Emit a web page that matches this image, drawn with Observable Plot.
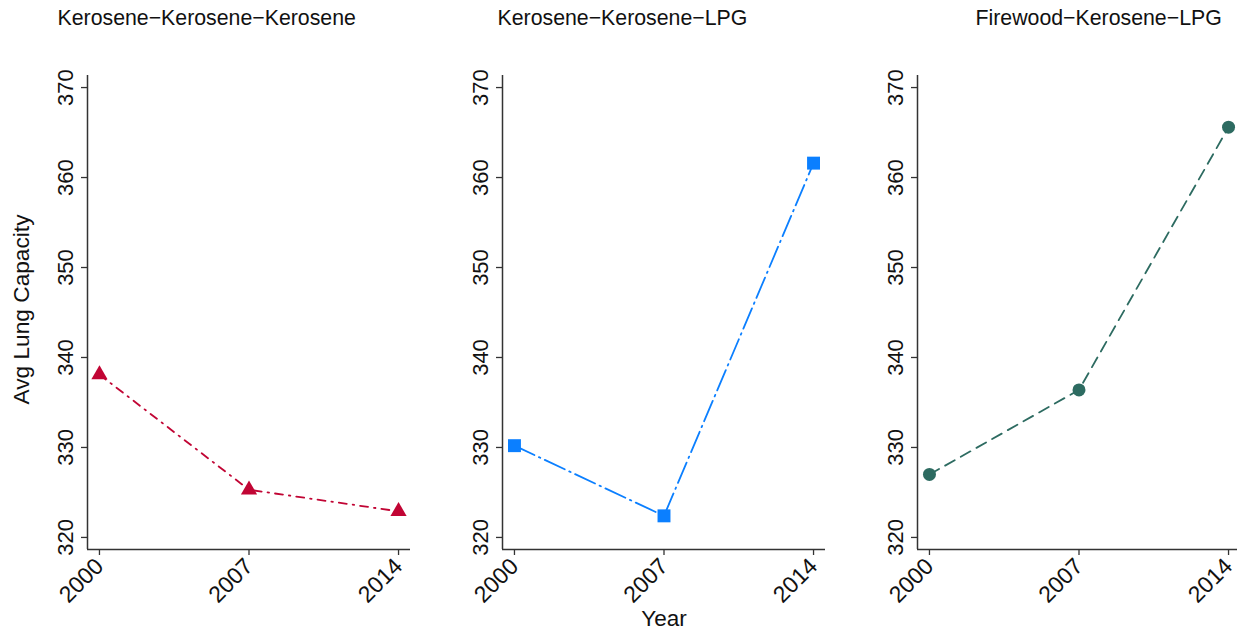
<!DOCTYPE html>
<html>
<head>
<meta charset="utf-8">
<script src="https://cdn.jsdelivr.net/npm/d3@7"></script>
<script src="https://cdn.jsdelivr.net/npm/@observablehq/plot@0.6"></script>
<style>
  html, body { margin: 0; padding: 0; background: #fff; overflow: hidden; }
  #chart { position: relative; width: 1237px; height: 633px; overflow: hidden; background: #fff; }
  #chart svg { position: absolute; top: 0; }
</style>
</head>
<body>
<div id="chart"></div>
<script>
// Survey years and average lung capacity per fuel-transition group
const years = [2000, 2007, 2014];
const panelTitles = ["Kerosene−Kerosene−Kerosene", "Kerosene−Kerosene−LPG", "Firewood−Kerosene−LPG"];
const keroKeroKero = [338.1, 325.3, 322.9];
const keroKeroLpg = [330.2, 322.4, 361.6];
const fireKeroLpg = [327.0, 336.4, 365.6];
const yTicks = [320, 330, 340, 350, 360, 370];
const yTitle = "Avg Lung Capacity";
const xTitle = "Year";

// Shared scale extents (a little padding around the data range)
const xDomain = [1999.44, 2014.56];
const yDomain = [318.66, 371.34];

const font = "'Liberation Sans', Arial, Helvetica, sans-serif";
const axisColor = "#333";

const panels = [
  {title: panelTitles[0], values: keroKeroKero, color: "#c10534", symbol: "triangle", r: 6, dash: "8,6,1.5,6", left: 0, width: 412, marginRight: 2, titleDx: -30},
  {title: panelTitles[1], values: keroKeroLpg, color: "#0b7fff", symbol: "square", r: 7.3, dash: "22,5,1.5,5", left: 415, width: 412, marginRight: 2, titleDx: -5},
  {title: panelTitles[2], values: fireKeroLpg, color: "#2d6b61", symbol: "circle", r: 6.5, dash: "11,7", left: 830, width: 410, marginRight: 0, titleDx: 58}
];

const chart = document.getElementById("chart");

panels.forEach((p, i) => {
  const data = years.map((year, j) => ({year, value: p.values[j]}));
  const marks = [
    Plot.ruleX([xDomain[0]], {stroke: axisColor, strokeWidth: 1.5}),
    Plot.ruleY([yDomain[0]], {stroke: axisColor, strokeWidth: 1.5}),
    Plot.axisY({
      ticks: yTicks, tickSize: 6, tickPadding: 9, tickRotate: -90,
      textAnchor: "middle", lineAnchor: "bottom", label: null, fontSize: 22,
      stroke: axisColor, strokeWidth: 1.3, fill: "#111"
    }),
    Plot.axisX({
      ticks: years, tickSize: 6, tickPadding: 7, tickRotate: -45,
      tickFormat: (d) => `${d}`, textAnchor: "end", lineAnchor: "middle", label: null, fontSize: 23,
      stroke: axisColor, strokeWidth: 1.3, fill: "#111"
    }),
    Plot.line(data, {x: "year", y: "value", stroke: p.color, strokeWidth: 1.8, strokeDasharray: p.dash}),
    Plot.dot(data, {x: "year", y: "value", symbol: p.symbol, r: p.r, fill: p.color, stroke: "none"}),
    Plot.text([p.title], {frameAnchor: "top-left", dx: p.titleDx, dy: -57, textAnchor: "start", lineAnchor: "middle", fontSize: 21.3, fill: "#111"})
  ];
  if (i === 0) {
    marks.push(Plot.text([yTitle], {frameAnchor: "left", dx: -66, dy: -3, rotate: -90, textAnchor: "middle", lineAnchor: "middle", fontSize: 22.7, fill: "#111"}));
  }
  if (i === 1) {
    marks.push(Plot.text([xTitle], {frameAnchor: "bottom", dy: 69, textAnchor: "middle", lineAnchor: "middle", fontSize: 22.5, fill: "#111"}));
  }
  const svg = Plot.plot({
    width: p.width,
    height: 633,
    marginLeft: 87,
    marginRight: p.marginRight,
    marginTop: 75,
    marginBottom: 84,
    x: {domain: xDomain},
    y: {domain: yDomain},
    style: {fontFamily: font, fontSize: "20px", color: "#111", background: "transparent", overflow: "visible"},
    marks
  });
  svg.style.left = `${p.left}px`;
  chart.appendChild(svg);
});
</script>
</body>
</html>
